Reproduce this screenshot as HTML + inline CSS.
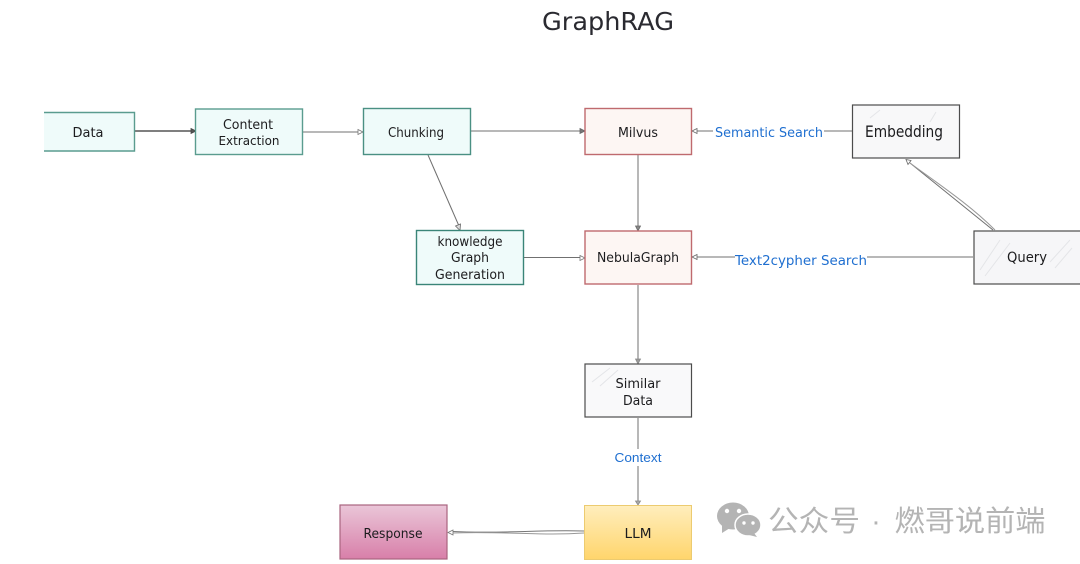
<!DOCTYPE html>
<html><head><meta charset="utf-8">
<style>
html,body{margin:0;padding:0;background:#fff;width:1080px;height:564px;overflow:hidden}
svg{display:block;filter:blur(.35px)}
text{font-family:"DejaVu Sans","Liberation Sans",sans-serif;fill:#1c1c1e;text-anchor:middle}
.b{fill:#1f6fd0}
.l{stroke:#707070;stroke-width:1;fill:none}
</style></head><body>
<svg width="1080" height="564" viewBox="0 0 1080 564" xmlns="http://www.w3.org/2000/svg">
<defs>
<linearGradient id="p" x1="0" y1="0" x2="0" y2="1"><stop offset="0" stop-color="#eac6d8"/><stop offset="1" stop-color="#d87fa9"/></linearGradient>
<linearGradient id="y" x1="0" y1="0" x2="0" y2="1"><stop offset="0" stop-color="#ffeebd"/><stop offset="1" stop-color="#ffd56c"/></linearGradient>
</defs>
<rect width="1080" height="564" fill="#fff"/>

<!-- connectors -->
<path class="l" d="M135 131H191" style="stroke:#555;stroke-width:1.6"/>
<path class="l" d="M303 132H358"/>
<path class="l" d="M471 131H580"/>
<path class="l" d="M852 131H824M713 131H697"/>
<path class="l" d="M638 155V226"/>
<path class="l" d="M428 155L459 226"/>
<path class="l" d="M524 257.500H580"/>
<path class="l" d="M973 257H867M735 257H697"/>
<path class="l" d="M638 285V359"/>
<path class="l" d="M638 418V449M638 466V501"/>
<path class="l" style="stroke:#777" d="M584 531C540 529.500 500 534 453 531.500"/>
<path class="l" style="stroke:#999" d="M584 533C540 536 500 531 453 533"/>
<path class="l" d="M993 230L910 163"/>
<path class="l" style="stroke:#999" d="M995 230C970 205 940 185 910 163"/>

<!-- arrowheads -->
<path d="M191 128.500L196 131L191 133.500Z" fill="#555" stroke="#444" stroke-width=".8"/>
<path d="M358 129.500L363 132L358 134.500Z" fill="#fff" stroke="#777" stroke-width=".8"/>
<path d="M580 128.500L585 131L580 133.500Z" fill="#777" stroke="#666" stroke-width=".8"/>
<path d="M697 128.500L692 131L697 133.500Z" fill="#fff" stroke="#666" stroke-width=".8"/>
<path d="M635.500 226L638 231L640.500 226Z" fill="#888" stroke="#666" stroke-width=".8"/>
<path d="M455.500 226L460 230.500L460.500 224Z" fill="#ddd" stroke="#666" stroke-width=".8"/>
<path d="M580 255.500L585 258L580 260.500Z" fill="#fff" stroke="#777" stroke-width=".8"/>
<path d="M697 254.500L692 257L697 259.500Z" fill="#fff" stroke="#666" stroke-width=".8"/>
<path d="M635.500 359L638 364L640.500 359Z" fill="#999" stroke="#888" stroke-width=".8"/>
<path d="M635.500 501L638 505L640.500 501Z" fill="#aaa" stroke="#888" stroke-width=".8"/>
<path d="M453 530L448 532.500L453 535Z" fill="#fff" stroke="#777" stroke-width=".8"/>
<path d="M906 159.500L911 160.500L908 164.500Z" fill="#fff" stroke="#666" stroke-width=".8"/>

<!-- boxes -->
<path d="M44 112.500H134.500V151H44Z" fill="#effbfa" stroke="none"/>
<path d="M44 112.500H134.500V151H44" fill="none" stroke="#5a9c8f" stroke-width="1.400"/>
<rect x="195.500" y="109" width="107" height="45.500" fill="#effbfa" stroke="#5a9c8f" stroke-width="1.400"/>
<rect x="363.500" y="108.500" width="107" height="46" fill="#effbfa" stroke="#4a9083" stroke-width="1.400"/>
<rect x="585" y="108.500" width="106.500" height="46" fill="#fdf6f3" stroke="#bf6a6e" stroke-width="1.400"/>
<rect x="852.500" y="105" width="107" height="53" fill="#f8f8f9" stroke="#4c4c4c" stroke-width="1.200"/>
<rect x="416.500" y="230.500" width="107" height="54" fill="#effbfa" stroke="#3a8578" stroke-width="1.400"/>
<rect x="585" y="231" width="106.500" height="53" fill="#fdf6f3" stroke="#bf6a6e" stroke-width="1.400"/>
<rect x="974" y="231" width="110" height="53" fill="#f6f6f8" stroke="#4c4c4c" stroke-width="1.200"/>
<rect x="585" y="364" width="106.500" height="53" fill="#f9f9fa" stroke="#4c4c4c" stroke-width="1.200"/>
<rect x="340" y="505" width="107" height="54" fill="url(#p)" stroke="#a9647f" stroke-width="1.200"/>
<rect x="584.500" y="505.500" width="107" height="54" fill="url(#y)" stroke="#eccb70" stroke-width="1"/>

<!-- hatch -->
<g stroke="#e4e5e8" stroke-width="1" fill="none">
<path d="M980 270L1000 240M985 276L1010 243M1050 262L1070 240M1055 268L1072 248"/>
<path d="M592 382L610 368M600 386L618 370"/>
<path d="M870 118L880 110M930 122L936 112"/>
</g>

<!-- text -->
<text x="608" y="30" font-size="25" textLength="132" lengthAdjust="spacingAndGlyphs" style="fill:#2a2a30">GraphRAG</text>
<text x="88" y="137" font-size="13" textLength="31" lengthAdjust="spacingAndGlyphs">Data</text>
<text x="248" y="129" font-size="13" textLength="50" lengthAdjust="spacingAndGlyphs">Content</text>
<text x="249" y="145" font-size="12" textLength="61" lengthAdjust="spacingAndGlyphs">Extraction</text>
<text x="416" y="137" font-size="13.500" textLength="56" lengthAdjust="spacingAndGlyphs">Chunking</text>
<text x="638" y="137" font-size="13" textLength="40" lengthAdjust="spacingAndGlyphs">Milvus</text>
<text x="904" y="137" font-size="16" textLength="78" lengthAdjust="spacingAndGlyphs">Embedding</text>
<text class="b" x="769" y="137" font-size="13" textLength="108" lengthAdjust="spacingAndGlyphs">Semantic Search</text>
<text x="470" y="246" font-size="13" textLength="65" lengthAdjust="spacingAndGlyphs">knowledge</text>
<text x="470" y="262" font-size="13" textLength="38" lengthAdjust="spacingAndGlyphs">Graph</text>
<text x="470" y="279" font-size="13" textLength="70" lengthAdjust="spacingAndGlyphs">Generation</text>
<text x="638" y="262" font-size="13.500" textLength="82" lengthAdjust="spacingAndGlyphs">NebulaGraph</text>
<text class="b" x="801" y="265" font-size="13" textLength="132" lengthAdjust="spacingAndGlyphs">Text2cypher Search</text>
<text x="1027" y="262" font-size="14" textLength="40" lengthAdjust="spacingAndGlyphs">Query</text>
<text x="638" y="388" font-size="13" textLength="45" lengthAdjust="spacingAndGlyphs">Similar</text>
<text x="638" y="405" font-size="13" textLength="30" lengthAdjust="spacingAndGlyphs">Data</text>
<text class="b" x="638" y="462" font-size="13" textLength="47" lengthAdjust="spacingAndGlyphs" style="font-family:'Liberation Sans',sans-serif">Context</text>
<text x="393" y="538" font-size="13" textLength="59" lengthAdjust="spacingAndGlyphs">Response</text>
<text x="638" y="538" font-size="13.500" textLength="27" lengthAdjust="spacingAndGlyphs">LLM</text>

<!-- watermark -->
<g fill="#b4b4b4">
<ellipse cx="733" cy="516" rx="16" ry="13.500"/>
<path d="M722 524L722 533L730 528Z"/>
<ellipse cx="748" cy="525" rx="13" ry="11" stroke="#fff" stroke-width="1.500"/>
<path d="M754 533L757 537L749 535Z"/>
</g>
<g fill="#fff"><circle cx="727" cy="511" r="2.200"/><circle cx="739" cy="511" r="2.200"/><circle cx="744" cy="523" r="1.700"/><circle cx="753" cy="523" r="1.700"/></g>
<text x="814" y="531" font-size="29" textLength="92" lengthAdjust="spacingAndGlyphs" style="fill:#b4b4b4;font-family:'Liberation Sans','Noto Sans CJK SC',sans-serif">公众号</text>
<text x="876" y="531" font-size="29" style="fill:#b4b4b4;font-family:'Liberation Sans','Noto Sans CJK SC',sans-serif">·</text>
<text x="970" y="531" font-size="29" textLength="151" lengthAdjust="spacingAndGlyphs" style="fill:#b4b4b4;font-family:'Liberation Sans','Noto Sans CJK SC',sans-serif">燃哥说前端</text>
</svg>
</body></html>
